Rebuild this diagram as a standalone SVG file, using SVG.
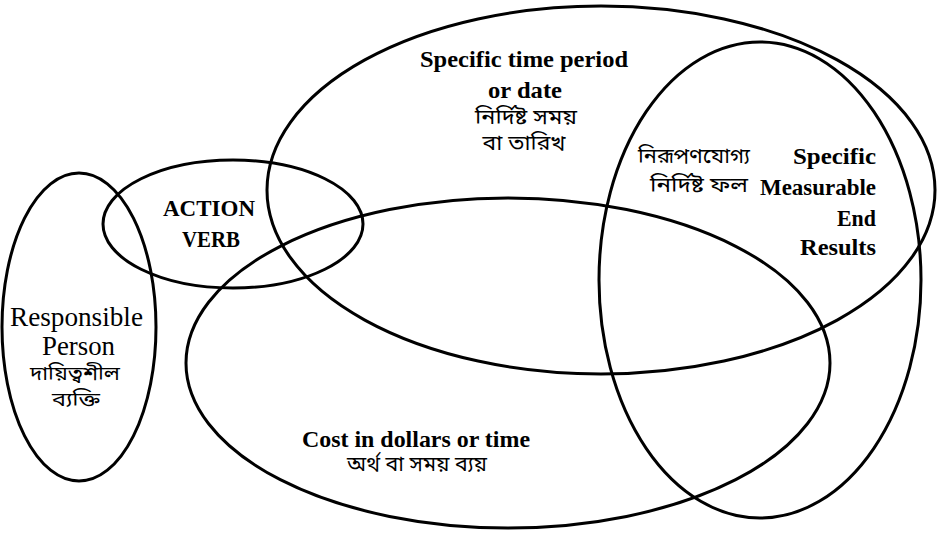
<svg xmlns="http://www.w3.org/2000/svg" width="942" height="533" viewBox="0 0 942 533">
<style>
.ring{fill:none;stroke:#000;stroke-width:3}
.b{font-family:"Liberation Serif","DejaVu Serif",serif;font-weight:bold;font-size:24px;fill:#000}
.r{font-family:"Liberation Serif","DejaVu Serif",serif;font-size:27px;fill:#000}
.bn{font-family:"Noto Sans Bengali","Noto Serif Bengali","Lohit Bengali","FreeSerif","Liberation Serif",serif;font-size:20px;fill:#000}
.bs{font-size:19px}
.m{text-anchor:middle}
.e{text-anchor:end}
</style>
<rect width="942" height="533" fill="#fff"/>
<g id="responsible">
<ellipse class="ring" cx="79" cy="327" rx="77" ry="154"/>
<text class="r m" x="76.5" y="326" textLength="133" lengthAdjust="spacingAndGlyphs">Responsible</text>
<text class="r m" x="78.5" y="355" textLength="73" lengthAdjust="spacingAndGlyphs">Person</text>
<text class="bn bs m" x="75" y="380" textLength="90" lengthAdjust="spacingAndGlyphs">দায়িত্বশীল</text>
<text class="bn bs m" x="76" y="406" textLength="48" lengthAdjust="spacingAndGlyphs">ব্যক্তি</text>
</g>
<g id="action">
<ellipse class="ring" cx="233" cy="224" rx="130" ry="64"/>
<text class="b m" x="209" y="216" textLength="92" lengthAdjust="spacingAndGlyphs">ACTION</text>
<text class="b m" x="211" y="247" textLength="58" lengthAdjust="spacingAndGlyphs">VERB</text>
</g>
<g id="time">
<ellipse class="ring" cx="601" cy="190" rx="334" ry="184"/>
<text class="b m" x="524" y="67" textLength="208" lengthAdjust="spacingAndGlyphs">Specific time period</text>
<text class="b m" x="525" y="98" textLength="74" lengthAdjust="spacingAndGlyphs">or date</text>
<text class="bn m" x="526" y="124" textLength="102" lengthAdjust="spacingAndGlyphs">নির্দিষ্ট সময়</text>
<text class="bn m" x="524" y="150" textLength="83" lengthAdjust="spacingAndGlyphs">বা তারিখ</text>
</g>
<g id="cost">
<ellipse class="ring" cx="508" cy="363" rx="322" ry="165"/>
<text class="b m" x="416" y="447" textLength="228" lengthAdjust="spacingAndGlyphs">Cost in dollars or time</text>
<text class="bn m" x="417" y="471" textLength="140" lengthAdjust="spacingAndGlyphs">অর্থ বা সময় ব্যয়</text>
</g>
<g id="results">
<ellipse class="ring" cx="760" cy="280" rx="161" ry="238"/>
<text class="bn e" x="750" y="163" textLength="112" lengthAdjust="spacingAndGlyphs">নিরূপণযোগ্য</text>
<text class="bn e" x="748" y="192" textLength="98" lengthAdjust="spacingAndGlyphs">নির্দিষ্ট ফল</text>
<text class="b e" x="876" y="164" textLength="83" lengthAdjust="spacingAndGlyphs">Specific</text>
<text class="b e" x="876" y="195" textLength="116" lengthAdjust="spacingAndGlyphs">Measurable</text>
<text class="b e" x="876" y="226" textLength="39" lengthAdjust="spacingAndGlyphs">End</text>
<text class="b e" x="876" y="255" textLength="76" lengthAdjust="spacingAndGlyphs">Results</text>
</g>
</svg>
